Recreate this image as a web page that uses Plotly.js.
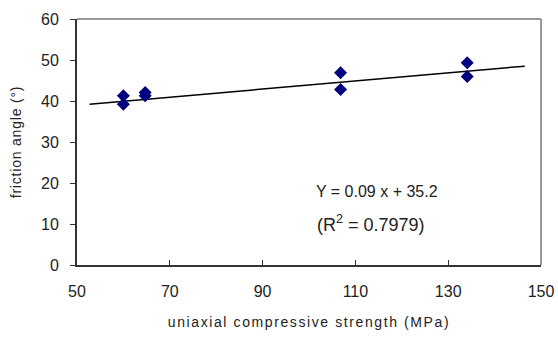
<!DOCTYPE html>
<html><head><meta charset="utf-8">
<script src="https://cdn.plot.ly/plotly-3.0.1.min.js"></script>
<style>
html,body{margin:0;padding:0;background:#fff;}
#chart{width:558px;height:337px;}
.xtitle{letter-spacing:1.6px;}
.ytitle{letter-spacing:0.8px;}
</style>
</head><body>
<div id="chart"></div>
<script>
// data
const ucs = [60, 60, 64.7, 64.7, 106.8, 106.8, 134.1, 134.1];
const frictionAngle = [41.3, 39.2, 42.1, 41.3, 46.9, 42.8, 49.3, 46.0];
const trendX = [52.7, 146.5];
const trendY = [39.2, 48.5];
const xTicks = [50, 70, 90, 110, 130, 150];
const yTicks = [0, 10, 20, 30, 40, 50, 60];
const equationText = 'Y = 0.09 x + 35.2';
const r2Text = '(R<sup>2</sup> = 0.7979)';

const font = 'Liberation Sans, Arial, sans-serif';
const data = [
  {x: trendX, y: trendY, mode: 'lines', type: 'scatter',
   line: {color: '#000', width: 1.5}, hoverinfo: 'skip'},
  {x: ucs, y: frictionAngle, mode: 'markers', type: 'scatter',
   marker: {symbol: 'diamond', size: 10, color: '#000080'}}
];
const layout = {
  width: 558, height: 337,
  margin: {l: 77, r: 17, t: 19, b: 72},
  showlegend: false,
  paper_bgcolor: '#fff', plot_bgcolor: '#fff',
  font: {family: font, color: '#222'},
  xaxis: {
    range: [50, 150], tickvals: xTicks, ticktext: xTicks.map(String),
    showgrid: false, zeroline: false,
    showline: true, linecolor: '#333', linewidth: 2,
    ticks: 'inside', ticklen: 5, tickcolor: '#333', tickwidth: 1,
    ticklabelstandoff: 11,
    tickfont: {size: 16, family: font, color: '#222'},
    title: {text: 'uniaxial compressive strength (MPa)', font: {size: 14, family: font, color: '#222'}, standoff: 18}
  },
  yaxis: {
    range: [0, 60], tickvals: yTicks, ticktext: yTicks.map(String),
    showgrid: false, zeroline: false,
    showline: true, linecolor: '#333', linewidth: 2,
    ticks: 'outside', ticklen: 5, tickcolor: '#333', tickwidth: 1,
    ticklabelstandoff: 8,
    tickfont: {size: 16, family: font, color: '#222'},
    title: {text: 'friction angle (°)', font: {size: 14, family: font, color: '#222'}, standoff: 16}
  },
  shapes: [
    {type: 'line', xref: 'paper', yref: 'paper', x0: 0, x1: 1, y0: 1, y1: 1, line: {color: '#999', width: 2}},
    {type: 'line', xref: 'paper', yref: 'paper', x0: 1, x1: 1, y0: 0, y1: 1, line: {color: '#999', width: 2}}
  ],
  annotations: [
    {x: 0.646, y: 0.297, xref: 'paper', yref: 'paper', xanchor: 'center', yanchor: 'middle',
     text: equationText, showarrow: false,
     font: {size: 16, family: font, color: '#222'}},
    {x: 0.634, y: 0.17, xref: 'paper', yref: 'paper', xanchor: 'center', yanchor: 'middle',
     text: r2Text, showarrow: false,
     font: {size: 18, family: font, color: '#222'}}
  ]
};
Plotly.newPlot('chart', data, layout, {displayModeBar: false, staticPlot: true});
</script>
</body></html>
